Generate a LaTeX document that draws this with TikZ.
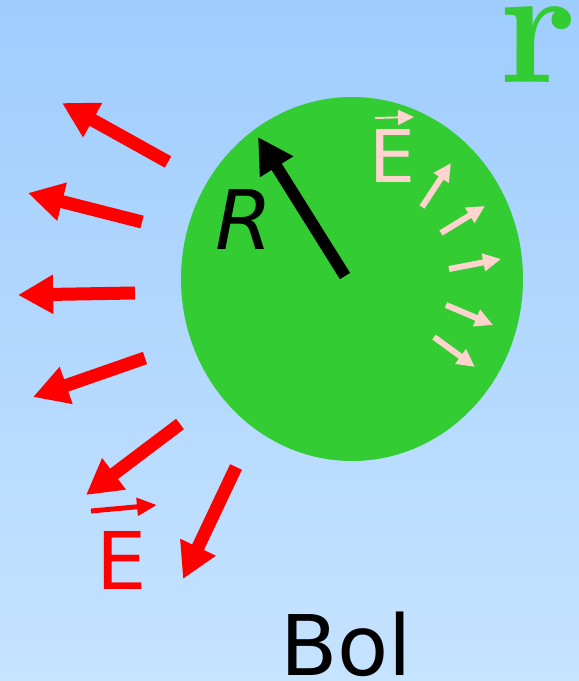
\documentclass[tikz,border=0pt]{standalone}
\usepackage{fontspec}
\setmainfont{DejaVu Sans}
\newfontfamily\serifr{Latin Modern Roman}
\usepackage{tikz}
\usetikzlibrary{arrows.meta}
\definecolor{skytop}{HTML}{9FCDFE}
\definecolor{skybot}{HTML}{C6E3FF}
\definecolor{bolgreen}{HTML}{33CC33}
\definecolor{fieldred}{HTML}{FF0000}
\definecolor{fieldpink}{HTML}{FFD3CE}
\tikzset{
  every picture/.style={line join=miter, line cap=butt},
  redfield/.style={fieldred, line width=7.4pt, -{Triangle[length=20pt,width=21pt]}},
  pinkfield/.style={fieldpink, line width=3.4pt, -{Triangle[length=10.2pt,width=9.7pt]}},
  radius arrow/.style={black, line width=6.8pt, -{Triangle[length=20pt,width=21pt]}},
  every node/.style={inner sep=0pt},
}

\begin{document}
\begin{tikzpicture}
\shade[top color=skytop,bottom color=skybot](0.000,0.000) rectangle (11.580,13.620);
\useasboundingbox (0.000,0.000) rectangle (11.580,13.620);
\fill[bolgreen] (7.040,8.040) ellipse[x radius=3.420, y radius=3.640];
% radius
\draw[radius arrow](6.900,8.100)--(5.160,10.880);
\node[anchor=base,font=\fontsize{46.8}{50}\selectfont\itshape] (rlabel) at (4.880,8.620) {R};
% field outside
\draw[redfield](3.360,10.380)--(1.240,11.560);
\draw[redfield](2.840,9.180)--(0.560,9.760);
\draw[redfield](2.700,7.760)--(0.360,7.720);
\draw[redfield](2.900,6.460)--(0.660,5.680);
\draw[redfield](3.600,5.140)--(1.720,3.720);
\draw[redfield](4.720,4.280)--(3.660,2.040);
\draw[fieldred,line width=2.8pt,-{Triangle[length=11.4pt,width=9.7pt]}](1.820,3.400)--(3.140,3.520);
\node[anchor=base,fieldred,font=\fontsize{45.3}{50}\selectfont] (eout) at (2.440,1.820) {E};
% field inside
\draw[pinkfield](8.440,9.480)--(9.020,10.360);
\draw[pinkfield](8.820,8.960)--(9.700,9.500);
\draw[pinkfield](8.980,8.240)--(10.020,8.440);
\draw[pinkfield](8.920,7.520)--(9.860,7.120);
\draw[pinkfield](8.680,6.880)--(9.500,6.280);
\draw[fieldpink,line width=1.1pt,-{Triangle[length=9.1pt,width=8.5pt]}](7.500,11.260)--(8.280,11.280);
\node[anchor=base,fieldpink,font=\fontsize{41.4}{45}\selectfont] (ein) at (7.850,9.960) {E};
% labels
\node[anchor=base,font=\fontsize{47.6}{52}\selectfont] (bol) at (6.920,0.100) {Bol};
\node[anchor=base,bolgreen,font=\fontsize{96}{100}\serifr\bfseries] (rmark) at (10.760,11.960) {r};
\end{tikzpicture}
\end{document}
